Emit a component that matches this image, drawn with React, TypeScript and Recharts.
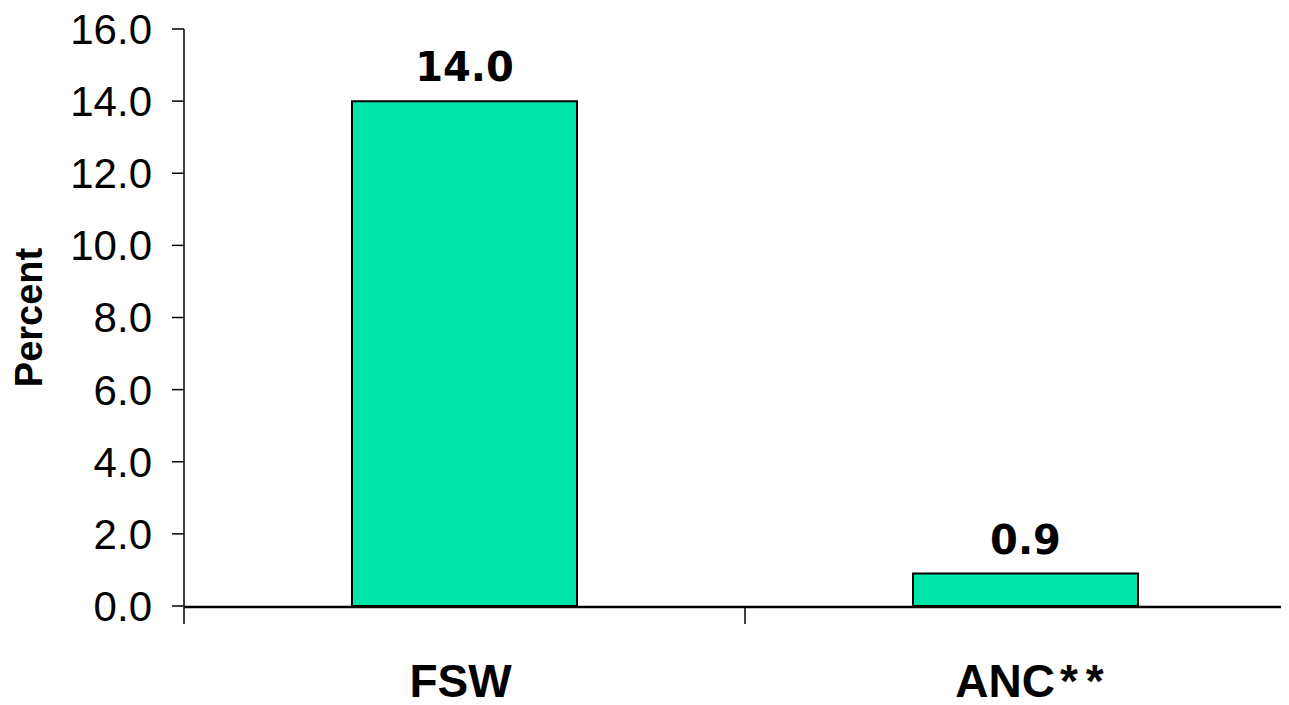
import React from "react";
import { BarChart, Bar, XAxis, YAxis, LabelList, Label } from "recharts";

// Prevalence by population group
const categories = ["FSW", "ANC**"];
const percentValues = [14.0, 0.9];
const yTicks = [0, 2, 4, 6, 8, 10, 12, 14, 16];
const yAxisTitle = "Percent";

const data = categories.map((name, i) => ({ name, value: percentValues[i], pos: i + 0.5 }));

const BAR_FILL = "#00E6AA";

const CategoryTick = (props: any) => {
  const { x, y, payload } = props;
  const label: string = String(payload.value);
  const stars = label.match(/\*+$/);
  const head = stars ? label.slice(0, label.length - stars[0].length) : label;
  return (
    <text
      x={x + (stars ? 4 : -4)}
      y={y}
      dy={91}
      textAnchor="middle"
      fontFamily="'Liberation Sans', Arial, sans-serif"
      fontWeight="bold"
      fontSize={46}
      fill="#000"
    >
      <tspan>{head}</tspan>
      {stars
        ? stars[0].split("").map((s, i) => (
            <tspan key={i} dx={i === 0 ? 5 : 8}>
              {s}
            </tspan>
          ))
        : null}
    </text>
  );
};

const EmptyTick = () => <g />;

const YTitle = (props: any) => {
  const vb = props.viewBox || { x: 0, y: 21, width: 176, height: 577 };
  const cx = 21;
  const cy = vb.y + vb.height / 2;
  return (
    <text
      x={cx}
      y={cy}
      transform={`rotate(-90, ${cx}, ${cy})`}
      textAnchor="middle"
      dominantBaseline="central"
      fontFamily="'Liberation Sans', Arial, sans-serif"
      fontWeight="bold"
      fontSize={38}
      fill="#000"
    >
      {yAxisTitle}
    </text>
  );
};

export default function App() {
  return (
    <div style={{ width: 1281, height: 697, overflow: "hidden" }}>
      <style>{`html, body { overflow: hidden; }`}</style>
      <BarChart
        width={1298}
        height={697}
        data={data}
        margin={{ top: 21, right: 0, bottom: 97, left: 0 }}
      >
        <XAxis
          dataKey="name"
          xAxisId="cat"
          height={1}
          axisLine={false}
          tickLine={false}
          tickSize={0}
          tickMargin={0}
          tick={<CategoryTick />}
          interval={0}
        />
        <XAxis
          xAxisId="edges"
          type="number"
          dataKey="pos"
          domain={[0, 2]}
          ticks={[0, 1, 2]}
          interval={0}
          allowDataOverflow
          height={1}
          tick={<EmptyTick />}
          tickSize={17}
          axisLine={{ stroke: "#000", strokeWidth: 2.5 }}
          tickLine={{ stroke: "#000", strokeWidth: 1.5 }}
        />
        <YAxis
          width={176}
          domain={[0, 16]}
          ticks={yTicks}
          interval={0}
          tickFormatter={(v: number) => v.toFixed(1)}
          tickSize={12}
          tickMargin={20}
          axisLine={{ stroke: "#000", strokeWidth: 1.5 }}
          tickLine={{ stroke: "#000", strokeWidth: 1.5 }}
          tick={{
            fontFamily: "'Liberation Sans', Arial, sans-serif",
            fontSize: 42,
            fill: "#000",
          }}
        >
          <Label content={<YTitle />} />
        </YAxis>
        <Bar
          dataKey="value"
          xAxisId="cat"
          barSize={225}
          fill={BAR_FILL}
          stroke="#000"
          strokeWidth={2}
          isAnimationActive={false}
        >
          <LabelList
            dataKey="value"
            position="top"
            offset={20}
            formatter={(v: any) => Number(v).toFixed(1)}
            style={{
              fontFamily: "'DejaVu Sans', Verdana, sans-serif",
              fontWeight: "bold",
              fontSize: 40,
              fill: "#000",
            }}
          />
        </Bar>
      </BarChart>
    </div>
  );
}
